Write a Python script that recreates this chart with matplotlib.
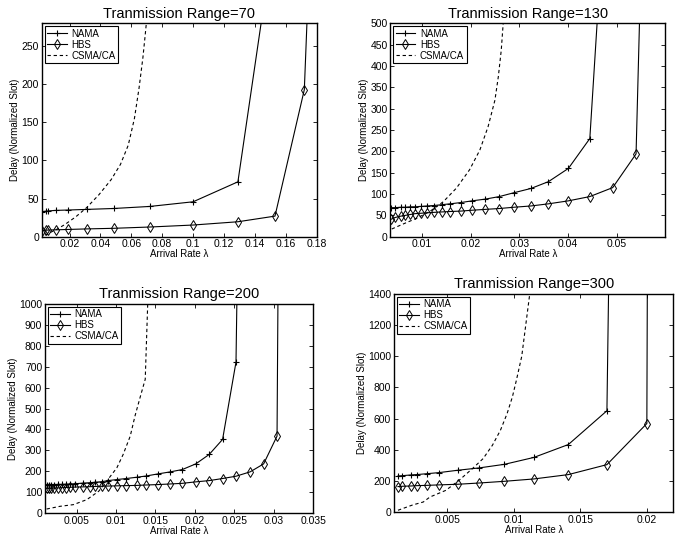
import matplotlib
matplotlib.use('Agg')
import matplotlib.pyplot as plt

plt.rcParams['font.family'] = ['Liberation Sans', 'DejaVu Sans']

# Range = 70
lam_70 = [0.002, 0.0045, 0.006, 0.011, 0.019, 0.031, 0.0485, 0.072, 0.1, 0.129, 0.153, 0.172, 0.176]
nama_x_70 = [0.002, 0.0045, 0.006, 0.011, 0.019, 0.031, 0.0485, 0.072, 0.1, 0.129, 0.150]
nama_70 = [32.7, 33.5, 33.8, 34.5, 35, 35.8, 37, 39.7, 45.8, 72, 363]
hbs_70 = [8, 8.5, 8.7, 9, 9.5, 10.2, 11, 12.7, 15.3, 19.6, 27, 193, 400]
csma_x_70 = [0.004, 0.008, 0.012, 0.017, 0.024, 0.031, 0.039, 0.047, 0.053, 0.058, 0.062, 0.065, 0.0675, 0.069, 0.0702, 0.071]
csma_y_70 = [2, 6, 10, 16, 26, 38, 55, 75, 95, 120, 155, 195, 235, 265, 290, 320]

# Range = 130
lam_130 = [0.0037, 0.0045, 0.0056, 0.0066, 0.0076, 0.0086, 0.0099, 0.011, 0.0124, 0.0141, 0.0158,
           0.018, 0.0203, 0.023, 0.0259, 0.0289, 0.0324, 0.036, 0.0401, 0.0445, 0.0492, 0.054, 0.0555]
nama_x_130 = lam_130[:20] + [0.0492]
nama_130 = [68, 68, 69, 69, 70, 70, 71, 72, 73, 75, 77, 80, 84, 88, 94, 103, 113, 129, 160, 230, 1080]
hbs_130 = [41, 45, 48, 50, 52, 54, 55, 56, 57, 58, 59, 60, 62, 64, 66, 69, 72, 77, 84, 94, 115, 194, 850]
csma_x_130 = [0.0038, 0.0062, 0.0089, 0.0116, 0.0144, 0.0171, 0.0198, 0.0219, 0.0236, 0.025, 0.0257, 0.0263, 0.0267, 0.027]
csma_y_130 = [18, 30, 43, 59, 82, 114, 157, 203, 258, 320, 375, 437, 500, 560]

# Range = 200
lam_200 = [0.0012, 0.0015, 0.0018, 0.0022, 0.0026, 0.0031, 0.0036, 0.0042, 0.0048, 0.0058, 0.0067,
           0.0073, 0.0082, 0.009, 0.0101, 0.0113, 0.0126, 0.0138, 0.0153, 0.0169, 0.0184, 0.0201,
           0.0218, 0.0235, 0.0252, 0.027, 0.0287, 0.0304, 0.0306]
nama_x_200 = lam_200[:25] + [0.0255]
nama_200 = [135, 135, 136, 136, 137, 137, 138, 139, 140, 143, 145, 147, 150, 155, 160, 165, 171, 177,
            187, 197, 208, 235, 280, 352, 722, 1500]
hbs_200 = [118, 118, 119, 119, 120, 121, 122, 123, 124, 125, 126, 127, 128, 129, 130, 131, 132, 134,
           136, 139, 142, 149, 155, 165, 176, 197, 235, 368, 1500]
csma_x_200 = [0.0012, 0.0029, 0.0046, 0.0063, 0.0078, 0.0088, 0.0101, 0.0109, 0.0118, 0.0124, 0.0131, 0.0137, 0.0141]
csma_y_200 = [19, 32, 40, 64, 104, 152, 216, 280, 368, 464, 560, 640, 1100]

# Range = 300
lam_300 = [0.0013, 0.0016, 0.0023, 0.0027, 0.0035, 0.0044, 0.0058, 0.0074, 0.0093, 0.0115, 0.0141, 0.0170, 0.0200, 0.0201]
nama_x_300 = lam_300[:12] + [0.0173]
nama_300 = [231, 233, 238, 240, 246, 253, 268, 283, 306, 350, 433, 650, 2500]
hbs_300 = [163, 165, 167, 169, 171, 174, 178, 186, 197, 212, 240, 304, 568, 3000]
csma_x_300 = [0.0013, 0.0024, 0.0032, 0.0037, 0.0049, 0.0059, 0.0069, 0.0077, 0.0084, 0.0090, 0.0095,
              0.0099, 0.0102, 0.0106, 0.0109, 0.0112, 0.0114]
csma_y_300 = [11, 45, 64, 96, 139, 204, 279, 343, 429, 525, 632, 740, 847, 1000, 1200, 1400, 1600]

fig = plt.figure(figsize=(6.84, 5.42), dpi=100)


def panel(rect, title, lam, nx, nama, hbs, cx, cy, xlim, ylim, xticks, yticks):
    ax = fig.add_axes(rect)
    ax.plot(nx, nama, 'k-', marker='+', ms=5, mew=0.8, lw=0.8, label='NAMA')
    ax.plot(lam, hbs, 'k-', marker='d', ms=5, mew=0.7, mfc='none', lw=0.8, label='HBS')
    ax.plot(cx, cy, 'k--', lw=0.8, dashes=(3, 2.5), label='CSMA/CA')
    ax.set_xlim(xlim)
    ax.set_ylim(ylim)
    ax.set_xticks(xticks)
    ax.set_xticklabels(['%g' % t for t in xticks])
    ax.set_yticks(yticks)
    ax.set_yticklabels(['%g' % t for t in yticks])
    ax.tick_params(direction='in', top=True, right=True, labelsize=7.5, length=3, width=0.6, pad=2)
    for s in ax.spines.values():
        s.set_linewidth(1.0)
    ax.set_title(title, fontsize=10.5, pad=4)
    ax.set_xlabel('Arrival Rate λ', fontsize=7, labelpad=0)
    ax.set_ylabel('Delay (Normalized Slot)', fontsize=7, labelpad=1)
    leg = ax.legend(loc='upper left', fontsize=7, handlelength=2.0, handletextpad=0.5,
                    labelspacing=0.1, borderpad=0.25, borderaxespad=0.3, fancybox=False,
                    framealpha=1, edgecolor='black')
    leg.get_frame().set_linewidth(0.8)
    return ax


panel([0.061, 0.5633, 0.402, 0.3937], 'Tranmission Range=70', lam_70, nama_x_70, nama_70, hbs_70,
      csma_x_70, csma_y_70, (0.002, 0.18), (0, 280),
      [0.02, 0.04, 0.06, 0.08, 0.1, 0.12, 0.14, 0.16, 0.18], [0, 50, 100, 150, 200, 250])

panel([0.5706, 0.5633, 0.402, 0.3937], 'Tranmission Range=130', lam_130, nama_x_130, nama_130, hbs_130,
      csma_x_130, csma_y_130, (0.0035, 0.06), (0, 500),
      [0.01, 0.02, 0.03, 0.04, 0.05], list(range(0, 501, 50)))

panel([0.0658, 0.0535, 0.3923, 0.3856], 'Tranmission Range=200', lam_200, nama_x_200, nama_200, hbs_200,
      csma_x_200, csma_y_200, (0.001, 0.035), (0, 1000),
      [0.005, 0.01, 0.015, 0.02, 0.025, 0.03, 0.035], list(range(0, 1001, 100)))

panel([0.576, 0.0554, 0.4086, 0.4022], 'Tranmission Range=300', lam_300, nama_x_300, nama_300, hbs_300,
      csma_x_300, csma_y_300, (0.001, 0.022), (0, 1400),
      [0.005, 0.01, 0.015, 0.02], list(range(0, 1401, 200)))

fig.savefig('out.png', dpi=100)
